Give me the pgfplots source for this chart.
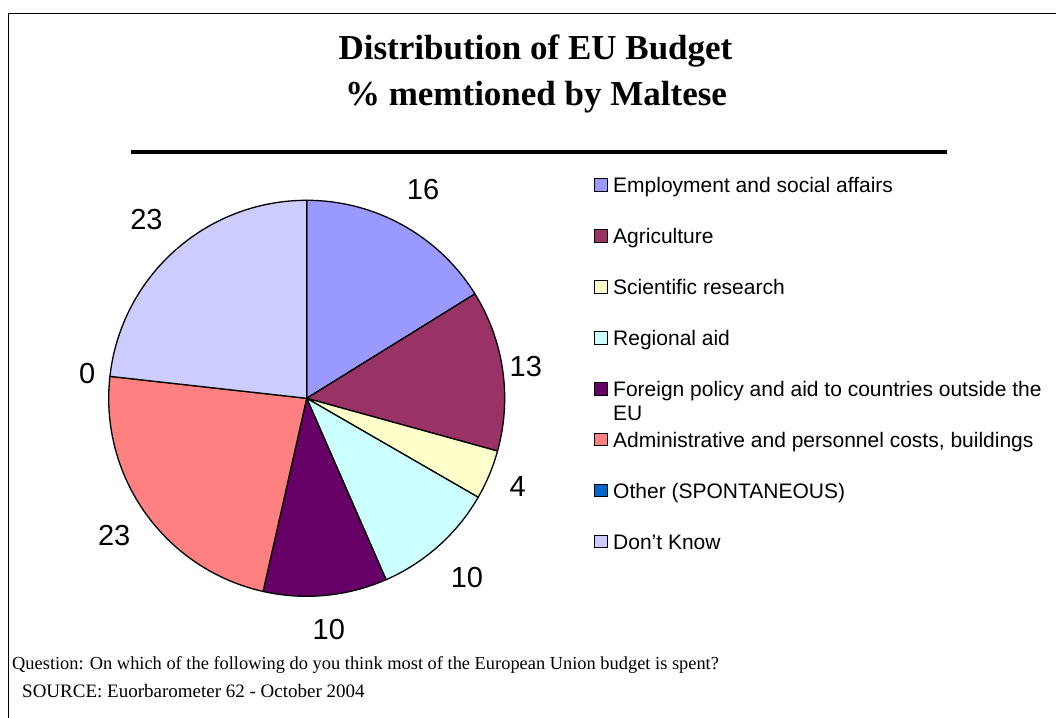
\documentclass[border=0pt]{standalone}
\usepackage{fontspec}
\setmainfont{Liberation Serif}
\setsansfont{Liberation Sans}
\usepackage{pgfplots}
\usepackage{pgfplotstable}
\pgfplotsset{compat=1.18}

\definecolor{slice0}{HTML}{9999FF}
\definecolor{slice1}{HTML}{993366}
\definecolor{slice2}{HTML}{FFFFCC}
\definecolor{slice3}{HTML}{CCFFFF}
\definecolor{slice4}{HTML}{660066}
\definecolor{slice5}{HTML}{FF8080}
\definecolor{slice6}{HTML}{0066CC}
\definecolor{slice7}{HTML}{CCCCFF}

% % mentioned, in legend order
\pgfplotstableread{
value
16
13
4
10
10
23
0
23
}\piedata

\newcommand\labelfont{\sffamily\fontsize{29}{29}\selectfont}
\newcommand\legendfont{\sffamily\fontsize{21}{24}\selectfont}
\newcommand\titlefont{\bfseries\fontsize{35}{35}\selectfont}
\newcommand\notefont{\fontsize{18.4}{18.4}\selectfont}

\begin{document}
\begin{tikzpicture}[x=1pt,y=1pt]
\useasboundingbox (0,0) rectangle (1056,717);
\draw[line width=1.3pt] (8.7,-5) -- (8.7,703.2) -- (1062,703.2);

\node[anchor=base, font=\titlefont, inner sep=0pt] at (535.5,657.8) {Distribution of EU Budget};
\node[anchor=base, font=\titlefont, inner sep=0pt] at (536,611) {\% memtioned by Maltese};
\draw[line width=4pt] (130.7,565) -- (947,565);

\begin{axis}[
    at={(306.7pt,318.7pt)}, anchor=center,
    x=198pt, y=198pt,
    xmin=-1.3, xmax=1.3, ymin=-1.3, ymax=1.3,
    hide axis, clip=false,
    legend cell align=left,
    legend image code/.code={\draw[#1] (0pt,-6.3pt) rectangle (12.6pt,6.3pt);},
    legend style={at={(1.0581,0.9293)}, anchor=north west, draw=none, fill=none,
        inner sep=0pt, row sep=35.6pt, column sep=5.5pt, font=\legendfont,
        nodes={inner sep=0pt, text height=15.3pt, text depth=0pt}},
]
\pgfplotstablegetrowsof{\piedata}
\pgfmathtruncatemacro{\lastrow}{\pgfplotsretval-1}
\def\pietotal{0}
\pgfplotsforeachungrouped \i in {0,...,\lastrow}{%
    \pgfplotstablegetelem{\i}{value}\of\piedata
    \pgfmathsetmacro\pietotal{\pietotal+\pgfplotsretval}%
}
\pgfmathsetmacro\degper{360/\pietotal}
\def\cum{0}
\pgfplotsforeachungrouped \i in {0,...,\lastrow}{%
    \pgfplotstablegetelem{\i}{value}\of\piedata
    \let\sval\pgfplotsretval
    \pgfmathsetmacro\aStart{90-\degper*\cum}%
    \pgfmathsetmacro\aEnd{90-\degper*(\cum+\sval)}%
    \pgfmathsetmacro\aMid{(\aStart+\aEnd)/2}%
    % labels sit a bit closer at the sides, farther on the diagonals
    \pgfmathsetmacro\lr{1.111+0.061*sin(\aMid)^2+0.07*sin(2*\aMid)^2}%
    \ifdim\sval pt>0pt
        \edef\temp{\noexpand\filldraw[fill=slice\i, draw=black, line width=1.3pt, line join=round]
            (axis cs:0,0) -- (axis cs:{cos(\aStart)},{sin(\aStart)})
            arc[start angle=\aStart, end angle=\aEnd, radius=198pt] -- cycle;}%
        \temp
    \fi
    \edef\temp{\noexpand\node[font=\noexpand\labelfont]
        at (axis cs:{\lr*cos(\aMid)},{\lr*sin(\aMid)}) {\sval};}%
    \temp
    \pgfmathsetmacro\cum{\cum+\sval}%
}

\addlegendimage{fill=slice0, draw=black, line width=0.9pt}
\addlegendentry{Employment and social affairs}
\addlegendimage{fill=slice1, draw=black, line width=0.9pt}
\addlegendentry{Agriculture}
\addlegendimage{fill=slice2, draw=black, line width=0.9pt}
\addlegendentry{Scientific research}
\addlegendimage{fill=slice3, draw=black, line width=0.9pt}
\addlegendentry{Regional aid}
\addlegendimage{fill=slice4, draw=black, line width=0.9pt}
\addlegendentry{\parbox[t]{470pt}{\baselineskip=24pt Foreign policy and aid to countries outside the\newline EU}}
\addlegendimage{fill=slice5, draw=black, line width=0.9pt}
\addlegendentry{Administrative and personnel costs, buildings}
\addlegendimage{fill=slice6, draw=black, line width=0.9pt}
\addlegendentry{Other (SPONTANEOUS)}
\addlegendimage{fill=slice7, draw=black, line width=0.9pt}
\addlegendentry{Don\symbol{"27}t Know}
\end{axis}

\node[anchor=base west, font=\notefont, inner sep=0pt] at (12,48)
    {Question: On which of the following do you think most of the European Union budget is spent?};
\node[anchor=base west, font=\fontsize{19}{19}\selectfont, inner sep=0pt] at (22,20)
    {SOURCE: Euorbarometer 62 - October 2004};
\end{tikzpicture}
\end{document}
